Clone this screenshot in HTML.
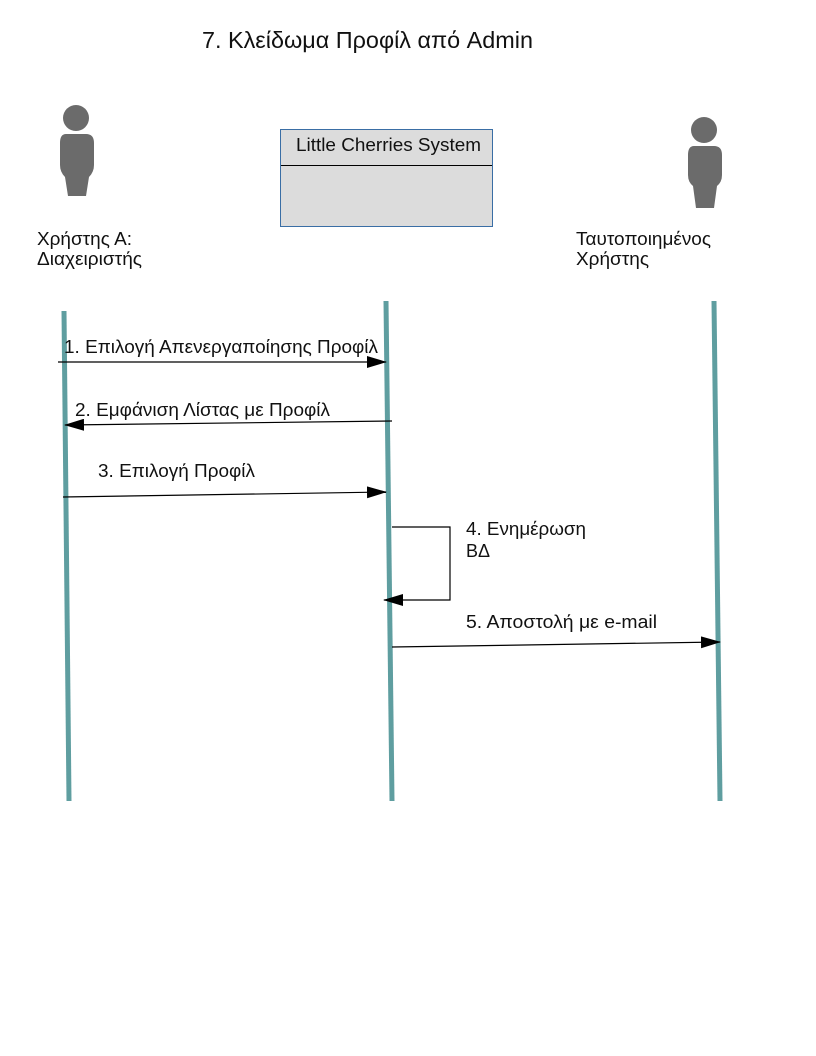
<!DOCTYPE html>
<html><head><meta charset="utf-8"><style>
body{margin:0;width:816px;height:1056px;background:#fff;}
svg{display:block}
text{font-family:"Liberation Sans","DejaVu Sans",sans-serif;fill:#111;}
</style></head><body>
<svg width="816" height="1056" viewBox="0 0 816 1056">
<defs><marker id="a" markerWidth="20" markerHeight="12" refX="19" refY="6" orient="auto" markerUnits="userSpaceOnUse"><path d="M0,0 L20,6 L0,12 z" fill="#000"/></marker></defs>
<text x="202" y="48" font-size="23" textLength="331" lengthAdjust="spacingAndGlyphs">7. Κλείδωμα Προφίλ από Admin</text>
<g fill="#6b6b6b">
<circle cx="76" cy="118" r="13"/>
<path d="M66,134 H86 Q94,134 94,143 V165 Q94,172 89,177 L86,196 H68 L65,177 Q60,172 60,165 V143 Q60,134 66,134 z"/>
<circle cx="704" cy="130" r="13"/>
<path d="M694,146 H714 Q722,146 722,155 V175 Q722,182 717,186 L714,208 H696 L693,186 Q688,182 688,175 V155 Q688,146 694,146 z"/>
</g>
<text x="37" y="245" font-size="18" textLength="95" lengthAdjust="spacingAndGlyphs">Χρήστης Α:</text>
<text x="37" y="265" font-size="18" textLength="105" lengthAdjust="spacingAndGlyphs">Διαχειριστής</text>
<text x="576" y="245" font-size="18" textLength="135" lengthAdjust="spacingAndGlyphs">Ταυτοποιημένος</text>
<text x="576" y="265" font-size="18" textLength="73" lengthAdjust="spacingAndGlyphs">Χρήστης</text>
<rect x="280.5" y="129.5" width="212" height="97" fill="#dcdcdc" stroke="#3a6ea5"/>
<line x1="281" y1="165.5" x2="492" y2="165.5" stroke="#000"/>
<text x="296" y="151" font-size="18" textLength="185" lengthAdjust="spacingAndGlyphs">Little Cherries System</text>
<g stroke="#5f9ea0" stroke-width="5">
<line x1="64" y1="311" x2="69" y2="801"/>
<line x1="386" y1="301" x2="392" y2="801"/>
<line x1="714" y1="301" x2="720" y2="801"/>
</g>
<g stroke="#000" stroke-width="1.2" fill="none">
<line x1="58" y1="362" x2="386" y2="362" marker-end="url(#a)"/>
<line x1="392" y1="421" x2="65" y2="425" marker-end="url(#a)"/>
<line x1="63" y1="497" x2="386" y2="492" marker-end="url(#a)"/>
<polyline points="392,527 450,527 450,600 384,600" marker-end="url(#a)"/>
<line x1="392" y1="647" x2="720" y2="642" marker-end="url(#a)"/>
</g>
<text x="64" y="353" font-size="18" textLength="314" lengthAdjust="spacingAndGlyphs">1. Επιλογή Απενεργαποίησης Προφίλ</text>
<text x="75" y="416" font-size="18" textLength="255" lengthAdjust="spacingAndGlyphs">2. Εμφάνιση Λίστας με Προφίλ</text>
<text x="98" y="477" font-size="18" textLength="157" lengthAdjust="spacingAndGlyphs">3. Επιλογή Προφίλ</text>
<text x="466" y="535" font-size="18" textLength="120" lengthAdjust="spacingAndGlyphs">4. Ενημέρωση</text>
<text x="466" y="557" font-size="18">ΒΔ</text>
<text x="466" y="628" font-size="18" textLength="191" lengthAdjust="spacingAndGlyphs">5.  Αποστολή με e-mail</text>
</svg>
</body></html>
